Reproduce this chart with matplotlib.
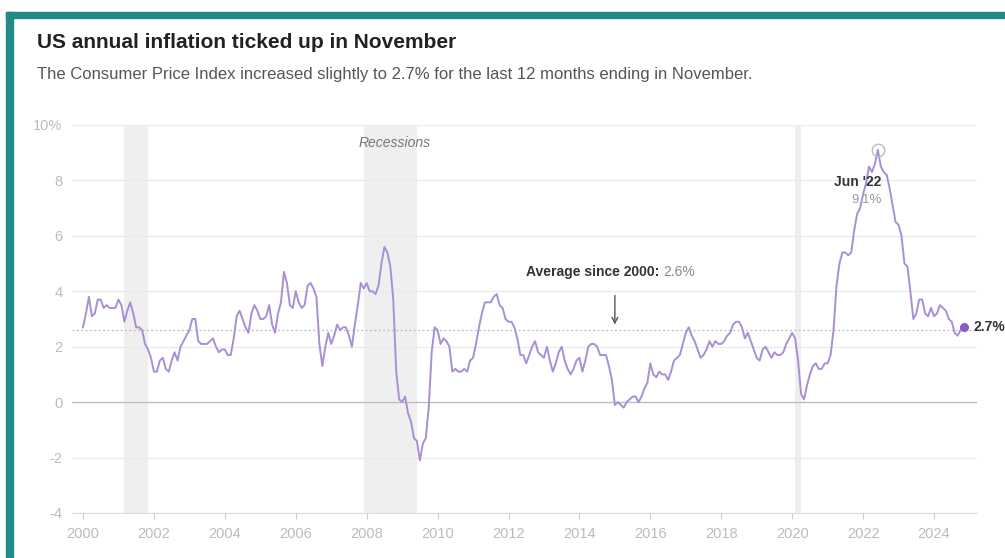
import numpy as np
import matplotlib.pyplot as plt

plt.rcParams['font.family'] = ['Liberation Sans', 'DejaVu Sans']

# monthly CPI year-over-year change, Jan 2000 - Nov 2024
cpi = [
    2.7, 3.2, 3.8, 3.1, 3.2, 3.7, 3.7, 3.4, 3.5, 3.4, 3.4, 3.4,
    3.7, 3.5, 2.9, 3.3, 3.6, 3.2, 2.7, 2.7, 2.6, 2.1, 1.9, 1.6,
    1.1, 1.1, 1.5, 1.6, 1.2, 1.1, 1.5, 1.8, 1.5, 2.0, 2.2, 2.4,
    2.6, 3.0, 3.0, 2.2, 2.1, 2.1, 2.1, 2.2, 2.3, 2.0, 1.8, 1.9,
    1.9, 1.7, 1.7, 2.3, 3.1, 3.3, 3.0, 2.7, 2.5, 3.2, 3.5, 3.3,
    3.0, 3.0, 3.1, 3.5, 2.8, 2.5, 3.2, 3.6, 4.7, 4.3, 3.5, 3.4,
    4.0, 3.6, 3.4, 3.5, 4.2, 4.3, 4.1, 3.8, 2.1, 1.3, 2.0, 2.5,
    2.1, 2.4, 2.8, 2.6, 2.7, 2.7, 2.4, 2.0, 2.8, 3.5, 4.3, 4.1,
    4.3, 4.0, 4.0, 3.9, 4.2, 5.0, 5.6, 5.4, 4.9, 3.7, 1.1, 0.1,
    0.0, 0.2, -0.4, -0.7, -1.3, -1.4, -2.1, -1.5, -1.3, -0.2, 1.8, 2.7,
    2.6, 2.1, 2.3, 2.2, 2.0, 1.1, 1.2, 1.1, 1.1, 1.2, 1.1, 1.5,
    1.6, 2.1, 2.7, 3.2, 3.6, 3.6, 3.6, 3.8, 3.9, 3.5, 3.4, 3.0,
    2.9, 2.9, 2.7, 2.3, 1.7, 1.7, 1.4, 1.7, 2.0, 2.2, 1.8, 1.7,
    1.6, 2.0, 1.5, 1.1, 1.4, 1.8, 2.0, 1.5, 1.2, 1.0, 1.2, 1.5,
    1.6, 1.1, 1.5, 2.0, 2.1, 2.1, 2.0, 1.7, 1.7, 1.7, 1.3, 0.8,
    -0.1, 0.0, -0.1, -0.2, 0.0, 0.1, 0.2, 0.2, 0.0, 0.2, 0.5, 0.7,
    1.4, 1.0, 0.9, 1.1, 1.0, 1.0, 0.8, 1.1, 1.5, 1.6, 1.7, 2.1,
    2.5, 2.7, 2.4, 2.2, 1.9, 1.6, 1.7, 1.9, 2.2, 2.0, 2.2, 2.1,
    2.1, 2.2, 2.4, 2.5, 2.8, 2.9, 2.9, 2.7, 2.3, 2.5, 2.2, 1.9,
    1.6, 1.5, 1.9, 2.0, 1.8, 1.6, 1.8, 1.7, 1.7, 1.8, 2.1, 2.3,
    2.5, 2.3, 1.5, 0.3, 0.1, 0.6, 1.0, 1.3, 1.4, 1.2, 1.2, 1.4,
    1.4, 1.7, 2.6, 4.2, 5.0, 5.4, 5.4, 5.3, 5.4, 6.2, 6.8, 7.0,
    7.5, 7.9, 8.5, 8.3, 8.6, 9.1, 8.5, 8.3, 8.2, 7.7, 7.1, 6.5,
    6.4, 6.0, 5.0, 4.9, 4.0, 3.0, 3.2, 3.7, 3.7, 3.2, 3.1, 3.4,
    3.1, 3.2, 3.5, 3.4, 3.3, 3.0, 2.9, 2.5, 2.4, 2.6, 2.7,
]
months = 2000 + np.arange(len(cpi)) / 12.0

recessions = [(2001 + 2/12, 2001 + 10/12), (2007 + 11/12, 2009 + 5/12), (2020 + 1/12, 2020 + 3/12)]
average = 2.6
year_ticks = list(range(2000, 2025, 2))
y_ticks = [-4, -2, 0, 2, 4, 6, 8, 10]
y_labels = ['-4', '-2', '0', '2', '4', '6', '8', '10%']

line_color = '#a88fd6'
teal = '#238b87'

fig = plt.figure(figsize=(10.05, 5.58), dpi=100)
fig.patch.set_facecolor('white')

# teal frame (top and left)
fig.patches.append(plt.Rectangle((6/1005, 0), 7/1005, 1 - 12/558, transform=fig.transFigure,
                                 color=teal, zorder=0))
fig.patches.append(plt.Rectangle((6/1005, 1 - 18/558), 1, 6/558, transform=fig.transFigure,
                                 color=teal, zorder=0))

ax = fig.add_axes([72/1005, 1 - 513/558, (977 - 72)/1005, (513 - 125)/558])
ax.set_xlim(2000 - 11/35.46, 2024 + 43/35.46)
ax.set_ylim(-4, 10)

for a, b in recessions:
    ax.axvspan(a, b, color='#efefef', zorder=0, lw=0)

for y in y_ticks:
    ax.axhline(y, color='#bdbdbd' if y == 0 else '#ebebeb', lw=1.0, zorder=1)
ax.axhline(average, color='#bbbbbb', lw=0.9, ls=(0, (1.5, 2)), zorder=1)

ax.plot(months, cpi, color=line_color, lw=1.4, zorder=3)

# end point
ax.plot(months[-1], cpi[-1], 'o', color='#8a5cc4', ms=5.5, zorder=4, clip_on=False)
ax.text(months[-1] + 0.27, cpi[-1], f'{cpi[-1]}%', fontsize=10, fontweight='bold',
        color='#333333', va='center', ha='left', clip_on=False)

# peak marker
peak = int(np.argmax(cpi))
ax.plot(months[peak], cpi[peak], 'o', mfc='none', mec='#bbbbbb', ms=9, mew=1.0, zorder=4)
ax.text(months[peak] + 0.1, 7.95, "Jun '22", fontsize=10, fontweight='bold', color='#333333',
        ha='right', va='center')
ax.text(months[peak] + 0.1, 7.3, f'{cpi[peak]}%', fontsize=9.5, color='#999999',
        ha='right', va='center')

# average annotation
ax.annotate('', xy=(2015.0, average + 0.1), xytext=(2015.0, 3.95),
            arrowprops=dict(arrowstyle='->', color='#555555', lw=1.0))
t = ax.text(2012.5, 4.7, 'Average since 2000: ', fontsize=10, fontweight='bold',
            color='#333333', ha='left', va='center')
fig.canvas.draw()
bb = t.get_window_extent().transformed(ax.transData.inverted())
ax.text(bb.x1, 4.7, f'{average}%', fontsize=10, color='#888888', ha='left', va='center')

ax.text(2008.8, 9.35, 'Recessions', fontsize=10, style='italic', color='#777777', ha='center',
        va='center')

ax.set_yticks(y_ticks)
ax.set_yticklabels(y_labels)
ax.set_xticks(year_ticks)
ax.set_xticklabels([str(y) for y in year_ticks])
ax.tick_params(axis='y', length=0, pad=7, labelsize=10.5, labelcolor='#bcbcbc')
ax.tick_params(axis='x', length=4, color='#cccccc', pad=6, labelsize=10.5, labelcolor='#bcbcbc')
for s in ['top', 'right', 'left']:
    ax.spines[s].set_visible(False)
ax.spines['bottom'].set_color('#dddddd')
ax.set_facecolor('none')

fig.text(37/1005, 1 - 42/558, 'US annual inflation ticked up in November', fontsize=15,
         fontweight='bold', color='#222222', va='center')
fig.text(37/1005, 1 - 74/558,
         'The Consumer Price Index increased slightly to 2.7% for the last 12 months ending in November.',
         fontsize=12, color='#555555', va='center')

fig.savefig('out.png', dpi=100)
